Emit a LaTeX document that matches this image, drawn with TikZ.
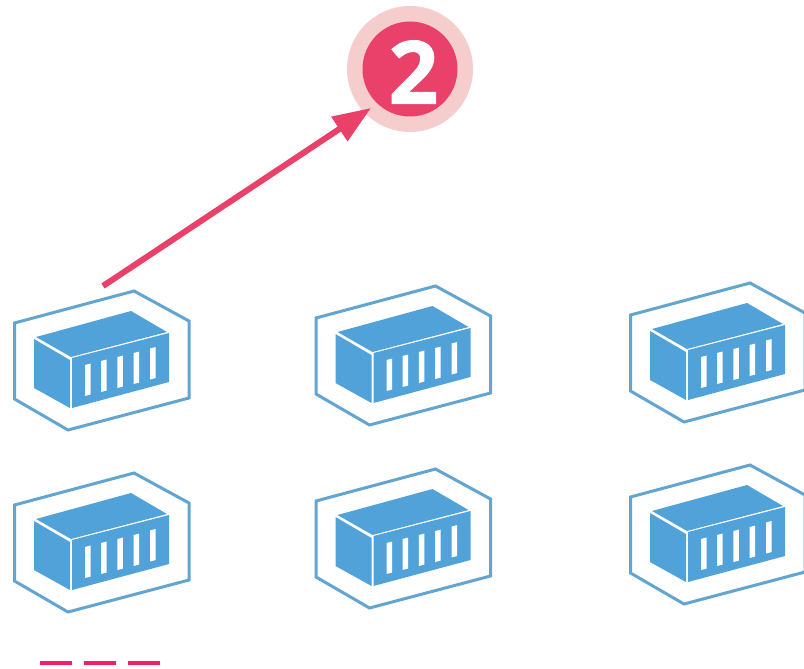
\documentclass[tikz,border=0pt]{standalone}
\usepackage{fontspec}
\setmainfont{Open Sans}[BoldFeatures={FakeBold=1.2}]
\usetikzlibrary{arrows.meta}
\definecolor{boxblue}{HTML}{52A2DA}
\definecolor{hexblue}{HTML}{62A5D1}
\definecolor{badge}{HTML}{E9416A}
\definecolor{halo}{HTML}{F5CDCC}
\definecolor{dashpink}{HTML}{EE2168}
\tikzset{
  x=1pt,y=-1pt,
  hexline/.style={draw=hexblue,line width=3pt,line join=miter},
  boxface/.style={fill=boxblue},
  slat/.style={fill=white},
  link/.style={draw=badge,line width=6pt,-{Triangle[length=38pt,width=28pt,fill=badge]}},
  dashbar/.style={fill=dashpink},
  container/.pic={
    \draw[hexline] (14.5,323) -- (134,291) -- (189,321) -- (189,398) -- (68,430) -- (14.5,399) -- cycle;
    \fill[boxface] (36,337) -- (131,311) -- (167,332) -- (71,357) -- cycle;
    \fill[boxface] (34,339) -- (70,360) -- (70,408) -- (34,388) -- cycle;
    \fill[boxface] (72,358) -- (169,333) -- (169,382) -- (72,408) -- cycle;
    \foreach \sx/\sy in {85/365,101/361,117.3/357,133.6/353,150/348.5}
      \fill[slat] (\sx,\sy) -- ++(5.5,-1.4) -- ++(0,31) -- ++(-5.5,1.4) -- cycle;
    \coordinate (-anchor) at (103,286);
  }
}
\begin{document}
\begin{tikzpicture}
\useasboundingbox (0,0) rectangle (804,669);
\pic (c1) at (0,0) {container};
\pic (c2) at (0,182) {container};
\pic (c3) at (301.5,-5) {container};
\pic (c4) at (301.5,178) {container};
\pic (c5) at (616,-8) {container};
\pic (c6) at (616,174) {container};
\node[circle,fill=halo,minimum size=126pt,inner sep=0pt] (halo) at (410,69) {};
\node[circle,fill=badge,minimum size=95pt,inner sep=0pt] (badge) at (410,69) {};
\node[text=white,font=\fontsize{87}{87}\selectfont\bfseries,inner sep=0pt] (num) at (413.5,72) {2};
\coordinate (tip) at (371,108);
\draw[link] (c1-anchor) -- (tip);
\fill[dashbar] (40,661) rectangle (72,665);
\fill[dashbar] (84,661) rectangle (116,665);
\fill[dashbar] (128,661) rectangle (160,665);
\end{tikzpicture}
\end{document}
